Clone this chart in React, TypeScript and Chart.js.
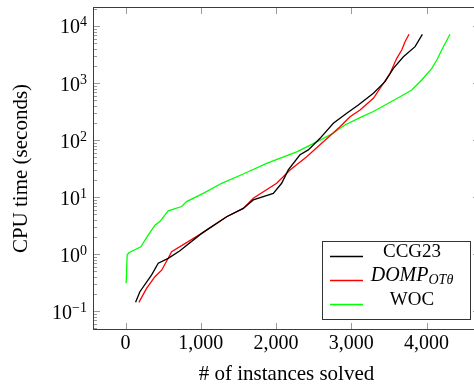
import React, { useEffect, useRef } from "react";
import { Chart, registerables } from "chart.js";

Chart.register(...registerables);

// ---- data ----
const ccgX = [133, 190, 346, 434, 566, 722, 1011, 1343, 1564, 1697, 1963, 2074, 2162, 2318, 2428, 2584, 2761, 2939, 3093, 3293, 3448, 3559, 3692, 3847, 3944];
const ccgY = [0.142, 0.218, 0.43, 0.69, 0.84, 1.14, 2.3, 4.5, 6.3, 8.9, 11.6, 17.4, 29.8, 55, 67, 107, 196, 294, 411, 660, 1054, 1810, 2890, 4335, 7150];

const dompX = [177, 279, 390, 479, 566, 612, 1011, 1343, 1564, 1697, 2008, 2185, 2407, 2628, 2850, 2983, 3116, 3293, 3515, 3604, 3670, 3714, 3767];
const dompY = [0.142, 0.25, 0.4, 0.52, 0.84, 1.1, 2.3, 4.5, 6.3, 9.5, 17.4, 29.8, 51, 93, 171, 256, 336, 540, 1480, 2710, 3790, 5300, 7150];

const wocX = [8, 21, 44, 203, 300, 390, 456, 566, 745, 811, 1032, 1277, 1564, 1875, 2274, 2540, 2757, 2915, 3116, 3293, 3648, 3803, 3936, 4069, 4136, 4223, 4312];
const wocY = [0.306, 0.96, 1.05, 1.34, 2.15, 3.2, 3.7, 5.7, 6.8, 8.3, 11.6, 17.4, 25.3, 39, 62, 93, 131, 183, 247, 316, 575, 754, 1130, 1810, 2530, 4330, 7150];

const xTickValues = [0, 1000, 2000, 3000, 4000];
const yDecades = [-1, 0, 1, 2, 3, 4];
const seriesNames = ["CCG23", "DOMP", "WOC"];
const dompSubscript = "OTθ";
const seriesColors = ["#000000", "#ff0000", "#00ff00"];
const xTitle = "# of instances solved";
const yTitle = "CPU time (seconds)";

const SERIF = '"Liberation Serif", "Times New Roman", serif';

export default function App() {
  const ref = useRef<HTMLCanvasElement>(null);

  useEffect(() => {
    const canvas = ref.current!;
    const pts = (xs: number[], ys: number[]) => xs.map((x, i) => ({ x, y: ys[i] }));

    const framePlugin = {
      id: "pgfFrame",
      afterDraw(chart: any) {
        const { ctx, chartArea: a, scales } = chart;
        const xs = scales.x;
        const ys = scales.y;
        ctx.save();

        // inner ticks
        ctx.strokeStyle = "#9a9a9a";
        ctx.lineWidth = 1;
        ctx.beginPath();
        for (const v of xTickValues) {
          const px = Math.round(xs.getPixelForValue(v)) + 0.5;
          ctx.moveTo(px, a.bottom);
          ctx.lineTo(px, a.bottom - 7);
          ctx.moveTo(px, a.top);
          ctx.lineTo(px, a.top + 7);
        }
        for (let k = -2; k <= 4; k++) {
          for (let m = 1; m <= 9; m++) {
            const v = m * Math.pow(10, k);
            if (v < ys.min || v > ys.max) continue;
            const py = Math.round(ys.getPixelForValue(v)) + 0.5;
            const len = m === 1 ? 7 : 4;
            ctx.moveTo(a.left, py);
            ctx.lineTo(a.left + len, py);
            ctx.moveTo(a.right, py);
            ctx.lineTo(a.right - len, py);
          }
        }
        ctx.stroke();

        // frame
        ctx.strokeStyle = "#3c3c3c";
        ctx.strokeRect(a.left + 0.5, a.top + 0.5, a.width - 1, a.height - 1);

        // y tick labels 10^k
        ctx.fillStyle = "#000";
        ctx.textAlign = "right";
        ctx.textBaseline = "alphabetic";
        const rightEdge = a.left - 6;
        for (const k of yDecades) {
          const py = ys.getPixelForValue(Math.pow(10, k));
          const exp = k < 0 ? "\u2212" + String(-k) : String(k);
          ctx.font = `14px ${SERIF}`;
          const ew = ctx.measureText(exp).width;
          ctx.fillText(exp, rightEdge, py + 0.5);
          ctx.font = `20px ${SERIF}`;
          ctx.fillText("10", rightEdge - ew, py + 7.5);
        }

        // legend
        const bx1 = 322.5, by1 = 241.5, bx2 = 470.5, by2 = 319.5;
        ctx.fillStyle = "#fff";
        ctx.fillRect(bx1, by1, bx2 - bx1, by2 - by1);
        ctx.strokeStyle = "#333";
        ctx.lineWidth = 1;
        ctx.strokeRect(bx1, by1, bx2 - bx1, by2 - by1);
        const rows = [256.5, 280.5, 304.5];
        const cx = 412;
        rows.forEach((ry, i) => {
          ctx.strokeStyle = seriesColors[i];
          ctx.lineWidth = 1.4;
          ctx.beginPath();
          ctx.moveTo(330, ry);
          ctx.lineTo(363, ry);
          ctx.stroke();
          ctx.fillStyle = "#000";
          ctx.textBaseline = "alphabetic";
          if (i === 1) {
            ctx.font = `italic 20px ${SERIF}`;
            const mw = ctx.measureText(seriesNames[i]).width;
            ctx.font = `italic 14px ${SERIF}`;
            const sw = ctx.measureText(dompSubscript).width;
            const x0 = cx - (mw + sw) / 2;
            ctx.textAlign = "left";
            ctx.font = `italic 20px ${SERIF}`;
            ctx.fillText(seriesNames[i], x0, ry);
            ctx.font = `italic 14px ${SERIF}`;
            ctx.fillText(dompSubscript, x0 + mw, ry + 3);
          } else {
            ctx.font = `19px ${SERIF}`;
            ctx.textAlign = "center";
            ctx.fillText(seriesNames[i], cx, ry);
          }
        });

        ctx.restore();
      },
    };

    const chart = new Chart(canvas, {
      type: "line",
      data: {
        datasets: [
          { label: seriesNames[0], data: pts(ccgX, ccgY), borderColor: seriesColors[0], borderWidth: 1.3, pointRadius: 0, fill: false, tension: 0 },
          { label: seriesNames[1], data: pts(dompX, dompY), borderColor: seriesColors[1], borderWidth: 1.3, pointRadius: 0, fill: false, tension: 0 },
          { label: seriesNames[2], data: pts(wocX, wocY), borderColor: seriesColors[2], borderWidth: 1.3, pointRadius: 0, fill: false, tension: 0 },
        ],
      },
      options: {
        responsive: false,
        animation: false,
        devicePixelRatio: 1,
        layout: { padding: { top: 7, right: 2, left: 0, bottom: 0 } },
        plugins: { legend: { display: false }, tooltip: { enabled: false } },
        scales: {
          x: {
            type: "linear",
            min: -433,
            max: 4710,
            grid: { display: false, drawTicks: false },
            border: { display: false },
            afterBuildTicks: (s: any) => {
              s.ticks = xTickValues.map((v) => ({ value: v }));
            },
            afterFit: (s: any) => {
              s.height = 57;
            },
            ticks: {
              color: "#000",
              padding: 2,
              maxRotation: 0,
              autoSkip: false,
              font: { family: SERIF, size: 20 },
              callback: (v: any) => Number(v).toLocaleString("en-US"),
            },
            title: {
              display: true,
              text: xTitle,
              color: "#000",
              font: { family: SERIF, size: 21 },
              padding: { top: 0, bottom: 0 },
            },
          },
          y: {
            type: "logarithmic",
            min: 0.04642,
            max: 21544,
            grid: { display: false, drawTicks: false },
            border: { display: false },
            ticks: { display: false },
            afterFit: (s: any) => {
              s.width = 93;
            },
            title: {
              display: true,
              text: yTitle,
              color: "#000",
              font: { family: SERIF, size: 21 },
              padding: { top: 8.6, bottom: 0 },
            },
          },
        },
      },
      plugins: [framePlugin],
    } as any);

    return () => chart.destroy();
  }, []);

  return (
    <div style={{ position: "fixed", left: 0, top: 0, width: 474, height: 387, overflow: "hidden", background: "#fff" }}>
      <canvas ref={ref} width={482} height={387} style={{ display: "block", width: 482, height: 387 }} />
    </div>
  );
}
